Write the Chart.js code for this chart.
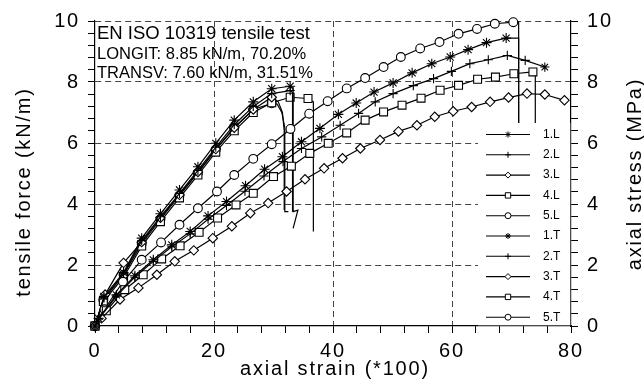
<!DOCTYPE html>
<html><head><meta charset="utf-8">
<script src="https://cdn.jsdelivr.net/npm/chart.js@4.4.1/dist/chart.umd.min.js"></script>
<style>html,body{margin:0;padding:0;background:#fff}#wrap{width:644px;height:390px}</style>
</head><body><div id="wrap"><canvas id="c" width="644" height="390"></canvas></div>
<script>
const FONT = "'Liberation Sans', Arial, sans-serif";

const seriesNames = ['1.L','2.L','3.L','4.L','5.L','1.T','2.T','3.T','4.T','5.T'];
const markerStyles = ['star','cross','rectRot','rect','circle','star','cross','rectRot','rect','circle'];

const infoLines = ['EN ISO 10319 tensile test', 'LONGIT: 8.85 kN/m, 70.20%', 'TRANSV: 7.60 kN/m, 31.51%'];
const xTitle = 'axial strain (*100)';
const yTitle = 'tensile force (kN/m)';
const y2Title = 'axial stress (MPa)';
const xTickLabels = [0, 20, 40, 60, 80];
const yTickLabels = [0, 2, 4, 6, 8, 10];

// measured points: strain (*100) / tensile force (kN/m)
const L1x = [0, 0.6, 3.6, 6.7, 9.8, 12.9, 16.0, 19.0, 22.1, 25.3, 28.5, 31.5, 34.7, 37.8, 40.9, 43.9, 46.9, 50.1, 53.3, 56.6, 59.7, 62.7, 65.8, 69.1];
const L1y = [0, 0.25, 1.02, 1.65, 2.17, 2.66, 3.1, 3.61, 4.08, 4.6, 5.14, 5.55, 6.04, 6.48, 6.94, 7.31, 7.67, 7.97, 8.3, 8.6, 8.82, 9.06, 9.29, 9.44];
const L2x = [0, 0.6, 3.6, 6.7, 9.8, 12.9, 16.0, 19.0, 22.1, 25.2, 28.4, 31.6, 34.7, 38.1, 41.2, 44.3, 47.1, 50.1, 53.5, 56.9, 59.9, 63.0, 66.1, 69.3, 72.3, 75.6];
const L2y = [0, 0.22, 0.98, 1.6, 2.12, 2.6, 3.02, 3.5, 3.95, 4.42, 4.92, 5.39, 5.82, 6.2, 6.58, 6.97, 7.35, 7.62, 7.88, 8.11, 8.35, 8.6, 8.73, 8.87, 8.71, 8.49];
const L3x = [0, 1.1, 4.2, 7.3, 10.4, 13.4, 16.6, 19.8, 23.0, 26.1, 29.1, 32.2, 35.3, 38.5, 41.6, 44.6, 47.9, 51.0, 54.1, 57.1, 60.2, 63.3, 66.4, 69.5, 72.6, 75.6, 78.9];
const L3y = [0, 0.25, 0.87, 1.25, 1.68, 2.12, 2.48, 2.88, 3.27, 3.7, 4.03, 4.41, 4.81, 5.17, 5.5, 5.82, 6.1, 6.38, 6.58, 6.86, 7.04, 7.18, 7.35, 7.49, 7.62, 7.59, 7.4];
const L4x = [0, 1.9, 5.0, 8.1, 11.2, 14.3, 17.5, 20.6, 23.7, 26.6, 30.0, 33.0, 36.1, 39.2, 42.3, 45.4, 48.5, 51.6, 54.8, 58.0, 61.1, 64.3, 67.3, 70.4, 73.6];
const L4y = [0, 0.5, 1.19, 1.68, 2.2, 2.63, 3.07, 3.54, 3.97, 4.35, 4.9, 5.24, 5.66, 5.99, 6.33, 6.75, 7.02, 7.24, 7.47, 7.73, 7.89, 8.09, 8.16, 8.27, 8.33];
const L5x = [0, 1.6, 4.7, 7.85, 11.1, 14.2, 17.3, 20.5, 23.4, 26.6, 29.7, 32.85, 36.0, 39.1, 42.3, 45.4, 48.5, 51.4, 54.65, 57.9, 61.1, 64.2, 67.2, 70.3];
const L5y = [0, 0.55, 1.45, 2.17, 2.74, 3.32, 3.86, 4.41, 4.95, 5.48, 5.96, 6.46, 6.96, 7.37, 7.79, 8.13, 8.49, 8.82, 9.1, 9.31, 9.58, 9.74, 9.91, 9.96];

const T1x = [0, 1.5, 4.8, 7.85, 11.0, 14.2, 17.3, 20.3, 23.4, 26.6, 29.7, 32.8];
const T1y = [0, 0.97, 1.75, 2.88, 3.68, 4.46, 5.22, 5.99, 6.75, 7.35, 7.78, 7.86];
const T2x = [0, 1.5, 4.8, 7.85, 11.0, 14.2, 17.3, 20.3, 23.4, 26.6, 29.7, 32.8];
const T2y = [0, 0.92, 1.7, 2.8, 3.58, 4.35, 5.1, 5.86, 6.6, 7.2, 7.62, 7.72];
const T3x = [0, 1.7, 4.8, 7.85, 11.0, 14.2, 17.3, 20.3, 23.4, 26.6, 29.7];
const T3y = [0, 1.03, 2.07, 2.75, 3.55, 4.3, 5.05, 5.8, 6.5, 7.1, 7.5];
const T4x = [0, 1.4, 4.8, 7.85, 11.0, 14.2, 17.3, 20.3, 23.4, 26.6, 29.7, 32.8, 35.8];
const T4y = [0, 0.8, 1.6, 2.62, 3.42, 4.2, 4.95, 5.7, 6.4, 7.0, 7.32, 7.5, 7.46];
const T5x = [0, 1.4, 4.8, 7.85, 11.0, 14.2, 17.3, 20.3, 23.4, 26.6, 29.7];
const T5y = [0, 0.85, 1.68, 2.7, 3.5, 4.28, 5.02, 5.78, 6.5, 7.1, 7.3];

// post-break traces (unmarked)
const L1dropX = [71.2, 71.2];       const L1dropY = [9.44, 5.0];
const L2dropX = [];                 const L2dropY = [];
const L3dropX = [];                 const L3dropY = [];
const L4dropX = [74.0, 74.0];       const L4dropY = [8.4, 5.0];
const L5dropX = [71.2, 71.2];       const L5dropY = [9.96, 5.0];
const T1dropX = [33.3, 33.3, 34.1, 33.3]; const T1dropY = [7.82, 3.75, 3.8, 3.2];
const T2dropX = [33.2, 33.2];       const T2dropY = [7.66, 3.75];
const T3dropX = [30.8, 31.5, 31.8, 31.8]; const T3dropY = [7.35, 7.0, 6.4, 3.8];
const T4dropX = [36.7, 36.7];       const T4dropY = [7.35, 3.1];
const T5dropX = [30.6, 31.4, 31.9, 31.9, 32.5]; const T5dropY = [7.28, 7.0, 6.5, 3.75, 3.75];

const allX = [L1x, L2x, L3x, L4x, L5x, T1x, T2x, T3x, T4x, T5x];
const allY = [L1y, L2y, L3y, L4y, L5y, T1y, T2y, T3y, T4y, T5y];
const allDX = [L1dropX, L2dropX, L3dropX, L4dropX, L5dropX, T1dropX, T2dropX, T3dropX, T4dropX, T5dropX];
const allDY = [L1dropY, L2dropY, L3dropY, L4dropY, L5dropY, T1dropY, T2dropY, T3dropY, T4dropY, T5dropY];

const radiusByStyle = {star: 5, cross: 4.6, rectRot: 4.7, rect: 5.6, circle: 4.4};

const datasets = seriesNames.map((name, i) => {
  const xs = allX[i], ys = allY[i], dx = allDX[i], dy = allDY[i];
  const data = xs.map((x, k) => ({x, y: ys[k]})).concat(dx.map((x, k) => ({x, y: dy[k]})));
  const r = radiusByStyle[markerStyles[i]];
  const radius = xs.map(() => r).concat(dx.map(() => 0));
  let styles = xs.map(() => markerStyles[i]).concat(dx.map(() => markerStyles[i]));
  if (name === '2.L') styles[xs.length - 1] = 'star';
  return {
    label: name, data, borderColor: '#000', borderWidth: 1.2, tension: 0, fill: false,
    pointStyle: styles, pointRadius: radius, pointHoverRadius: radius,
    pointBorderColor: '#000', pointBackgroundColor: '#fff', pointBorderWidth: 1.1, clip: false
  };
});

function isMult(v, m) { const q = v / m; return Math.abs(q - Math.round(q)) < 1e-6; }

function drawMarker(ctx, style, x, y, r) {
  ctx.beginPath();
  if (style === 'circle') { ctx.arc(x, y, r, 0, Math.PI * 2); ctx.fill(); ctx.stroke(); }
  else if (style === 'rect') { const s = r * Math.SQRT1_2; ctx.rect(x - s, y - s, 2 * s, 2 * s); ctx.fill(); ctx.stroke(); }
  else if (style === 'rectRot') { ctx.moveTo(x, y - r); ctx.lineTo(x + r, y); ctx.lineTo(x, y + r); ctx.lineTo(x - r, y); ctx.closePath(); ctx.fill(); ctx.stroke(); }
  else if (style === 'cross') { ctx.moveTo(x - r, y); ctx.lineTo(x + r, y); ctx.moveTo(x, y - r); ctx.lineTo(x, y + r); ctx.stroke(); }
  else if (style === 'star') {
    ctx.moveTo(x - r, y); ctx.lineTo(x + r, y); ctx.moveTo(x, y - r); ctx.lineTo(x, y + r);
    const d = r * Math.SQRT1_2;
    ctx.moveTo(x - d, y - d); ctx.lineTo(x + d, y + d); ctx.moveTo(x - d, y + d); ctx.lineTo(x + d, y - d); ctx.stroke();
  }
}

const decor = {
  id: 'decor',
  beforeDraw(chart) { chart.ctx.letterSpacing = '1.8px'; },
  afterDatasetsDraw(chart) {
    const ctx = chart.ctx;
    const a = chart.chartArea;
    ctx.save();
    ctx.letterSpacing = '0px';
    // info text
    ctx.fillStyle = '#000';
    ctx.textAlign = 'left';
    ctx.textBaseline = 'alphabetic';
    ctx.font = `18.5px ${FONT}`;
    ctx.fillText(infoLines[0], 97, 38.5);
    ctx.font = `16.5px ${FONT}`;
    ctx.fillText(infoLines[1], 97, 58.5);
    ctx.fillText(infoLines[2], 97, 77.5);
    // legend
    ctx.fillStyle = '#fff';
    ctx.fillRect(478, 123, a.right - 0.7 - 478, a.bottom - 0.7 - 123);
    ctx.font = `12px ${FONT}`;
    ctx.textBaseline = 'middle';
    for (let i = 0; i < seriesNames.length; i++) {
      const y = 134.5 + i * 20.3;
      ctx.strokeStyle = '#000'; ctx.lineWidth = 1.1;
      ctx.beginPath(); ctx.moveTo(486, y); ctx.lineTo(530, y); ctx.stroke();
      ctx.fillStyle = '#fff'; ctx.lineWidth = 1;
      drawMarker(ctx, markerStyles[i], 508, y, markerStyles[i] === 'rect' ? 3.8 : 3);
      ctx.fillStyle = '#000';
      ctx.fillText(seriesNames[i], 543, y);
    }
    ctx.restore();
  },
  afterDraw(chart) {
    const ctx = chart.ctx;
    ctx.save();
    ctx.letterSpacing = '1.8px';
    ctx.fillStyle = '#000';
    ctx.font = `20px ${FONT}`;
    ctx.textAlign = 'center';
    ctx.textBaseline = 'alphabetic';
    ctx.fillText(xTitle, 335, 375);
    ctx.save(); ctx.translate(30, 192); ctx.rotate(-Math.PI / 2); ctx.fillText(yTitle, 0, 0); ctx.restore();
    ctx.save(); ctx.translate(641, 174); ctx.rotate(-Math.PI / 2); ctx.fillText(y2Title, 0, 0); ctx.restore();
    ctx.restore();
  }
};

const gridCommon = (majorStep, skipEnds) => ({
  color: (c) => {
    const v = c.tick ? c.tick.value : 0;
    if (!isMult(v, majorStep)) return 'rgba(0,0,0,0)';
    if (skipEnds.includes(v)) return 'rgba(0,0,0,0)';
    return '#444';
  },
  tickColor: '#000', tickLength: 7, tickWidth: 1, lineWidth: 1
});

new Chart(document.getElementById('c'), {
  type: 'line',
  data: { datasets },
  plugins: [decor],
  options: {
    responsive: false, animation: false, devicePixelRatio: 1,
    layout: { padding: { top: 20, left: 0, right: 0, bottom: 0 } },
    plugins: { legend: { display: false }, tooltip: { enabled: false } },
    scales: {
      x: {
        type: 'linear', min: 0, max: 80, position: 'bottom',
        ticks: { stepSize: 4, autoSkip: false, maxRotation: 0, color: '#000', padding: 6,
          font: { family: FONT, size: 20 },
          callback: (v) => xTickLabels.find(t => Math.abs(t - v) < 1e-6) !== undefined ? String(Math.round(v)) : '' },
        grid: gridCommon(20, [0, 80]),
        border: { display: true, color: '#000', width: 1.2, dash: [6, 4] },
        afterFit: (s) => { s.height = 64; }
      },
      y: {
        type: 'linear', min: 0, max: 10, position: 'left',
        ticks: { stepSize: 0.4, autoSkip: false, color: '#000', padding: 8,
          font: { family: FONT, size: 20 },
          callback: (v) => yTickLabels.find(t => Math.abs(t - v) < 1e-6) !== undefined ? String(Math.round(v)) : '' },
        grid: gridCommon(2, [0]),
        border: { display: true, color: '#000', width: 1.2, dash: [6, 4] },
        afterFit: (s) => { s.width = 95; }
      },
      y2: {
        type: 'linear', min: 0, max: 10, position: 'right',
        ticks: { stepSize: 0.4, autoSkip: false, color: '#000', padding: 9,
          font: { family: FONT, size: 20 },
          callback: (v) => yTickLabels.find(t => Math.abs(t - v) < 1e-6) !== undefined ? String(Math.round(v)) : '' },
        grid: { drawOnChartArea: false, color: '#000', tickColor: '#000', tickLength: 7, tickWidth: 1 },
        border: { display: true, color: '#000', width: 1.2 },
        afterFit: (s) => { s.width = 73; }
      }
    }
  }
});
</script></body></html>
